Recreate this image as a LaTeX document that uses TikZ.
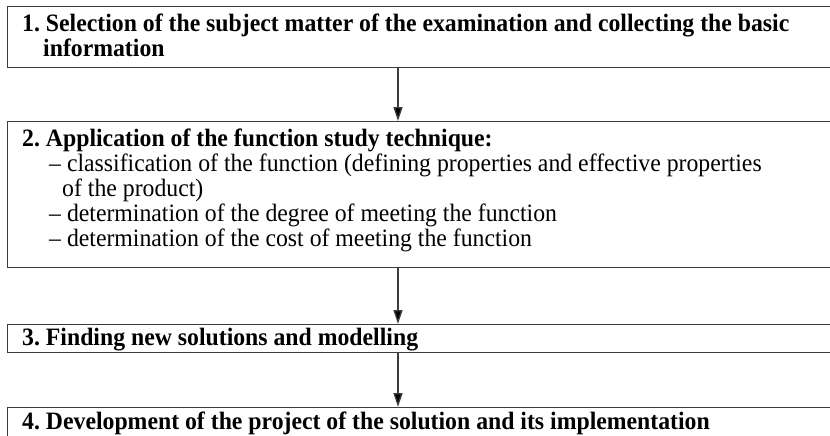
\documentclass[tikz,border=0pt]{standalone}
\usepackage{fontspec}
\setmainfont{Liberation Serif}[FakeStretch=0.95]
\usetikzlibrary{arrows.meta}
\definecolor{linegray}{HTML}{3C3C3C}
\tikzset{
  stagebox/.style={draw=linegray, line width=1.3pt, inner sep=0pt, anchor=north west, minimum width=838pt},
  boldtxt/.style={anchor=base west, inner sep=0pt, font=\fontsize{25}{25}\selectfont\bfseries},
  plaintxt/.style={anchor=base west, inner sep=0pt, font=\fontsize{25}{25}\selectfont},
  flowarrow/.style={draw=linegray, line width=1.3pt, -{Triangle[length=14pt,width=9pt,fill=black]}}
}
\frenchspacing
\begin{document}
\begin{tikzpicture}[x=1pt,y=-1pt]
\useasboundingbox (0,0) rectangle (830,436);
\clip (0,0) rectangle (830,436);
\fill[white] (0,0) rectangle (830,436);
\node[stagebox, minimum height=61pt] (b1) at (7,6) {};
\node[stagebox, minimum height=146pt] (b2) at (7,121) {};
\node[stagebox, minimum height=28pt] (b3) at (7,324) {};
\node[stagebox, minimum height=50pt] (b4) at (7,407) {};
\coordinate (ax) at (398,0);
\node[boldtxt] (t1a) at (22,32) {1. Selection of the subject matter of the examination and collecting the basic};
\node[boldtxt] (t1b) at (43,57) {information};
\node[boldtxt] (t2a) at (22,146) {2. Application of the function study technique:};
\node[plaintxt] (t2b) at (49,171) {– classification of the function (defining properties and effective properties};
\node[plaintxt] (t2c) at (62,196) {of the product)};
\node[plaintxt] (t2d) at (49,221) {– determination of the degree of meeting the function};
\node[plaintxt] (t2e) at (49,246) {– determination of the cost of meeting the function};
\node[boldtxt] (t3) at (22,345) {3. Finding new solutions and modelling};
\node[boldtxt] (t4) at (22,429) {4. Development of the project of the solution and its implementation};
\draw[flowarrow] (b1.south -| ax) -- (b2.north -| ax);
\draw[flowarrow] (b2.south -| ax) -- (b3.north -| ax);
\draw[flowarrow] (b3.south -| ax) -- (b4.north -| ax);
\end{tikzpicture}
\end{document}
